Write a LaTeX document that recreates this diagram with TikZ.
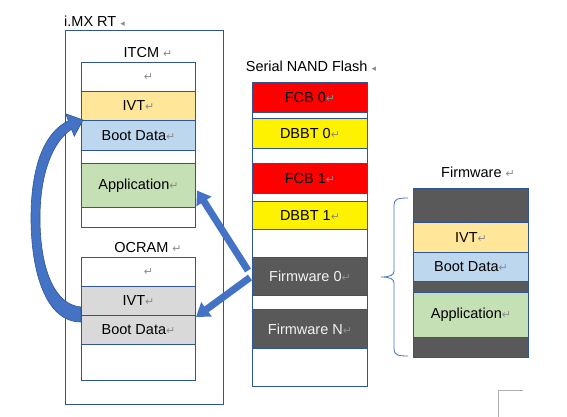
\documentclass[tikz,border=0pt]{standalone}
\usepackage{fontspec}
\setmainfont{Liberation Sans}
\newfontfamily\markfont{DejaVu Sans}
\usepackage{tikz}
\usetikzlibrary{positioning, arrows.meta, calc}
\definecolor{linec}{HTML}{2F5597}
\definecolor{arrowc}{HTML}{4472C4}
\definecolor{ivtc}{HTML}{FFE699}
\definecolor{bdc}{HTML}{BDD7EE}
\definecolor{appc}{HTML}{C5E0B4}
\definecolor{ocrc}{HTML}{D9D9D9}
\definecolor{darkc}{HTML}{595959}
\definecolor{markc}{HTML}{8C8C8C}
\newcommand{\parmark}{{\markfont\color{markc}\fontsize{11}{11}\selectfont ↵}}
\newcommand{\anchmark}{{\markfont\color{markc}\fontsize{9}{9}\selectfont ◂}}

\begin{document}
\begin{tikzpicture}[x=1pt, y=-1pt,
    frame/.style={draw=linec, line width=1pt, anchor=north west, minimum width=114, inner sep=0pt},
    cell/.style={frame, font=\fontsize{14.5}{16}\selectfont},
    title/.style={font=\fontsize{14.5}{16}\selectfont, inner sep=0pt},
    bluearrow/.style={draw=arrowc, line width=7pt, -{Triangle[width=17pt, length=13pt]}}]
  \useasboundingbox (0,0) rectangle (567,417);
  % i.MX RT
  \node[frame, minimum width=158, minimum height=374] (imx) at (65,30) {};
  \node[title, anchor=west] (imxt) at (64,21) {i.MX RT \anchmark};
  \node[title] (itcmt) at (148,53) {ITCM \parmark};
  \node[frame, minimum height=165] (itcm) at (81,62) {};
  \node[cell, draw=none, minimum height=29] (itcm0) at (81,62) {\hspace*{20pt}\parmark};
  \node[cell, fill=ivtc, minimum height=29] (ivt1) at (81,91) {IVT\parmark};
  \node[cell, fill=bdc, minimum height=30] (bd1) at (81,120) {Boot Data\parmark};
  \node[cell, fill=appc, minimum height=44] (app1) at (81,163) {Application\parmark};
  \node[title] (ocrt) at (148,248) {OCRAM \parmark};
  \node[frame, minimum height=123] (ocr) at (81,257) {};
  \node[cell, draw=none, minimum height=29] (ocr0) at (81,257) {\hspace*{20pt}\parmark};
  \node[cell, fill=ocrc, minimum height=29] (ivt2) at (81,286) {IVT\parmark};
  \node[cell, fill=ocrc, minimum height=29] (bd2) at (81,315) {Boot Data\parmark};
  % Serial NAND Flash
  \node[title] (flasht) at (311,66) {Serial NAND Flash \anchmark};
  \node[frame, minimum width=115, minimum height=304] (flash) at (252,82) {};
  \node[cell, minimum width=115, fill=red, minimum height=30] (fcb0) at (252,82) {FCB 0\parmark};
  \node[cell, minimum width=115, fill=yellow, minimum height=30] (dbbt0) at (252,118) {DBBT 0\parmark};
  \node[cell, minimum width=115, fill=red, minimum height=30] (fcb1) at (252,163) {FCB 1\parmark};
  \node[cell, minimum width=115, fill=yellow, minimum height=28] (dbbt1) at (252,201) {DBBT 1\parmark};
  \node[cell, minimum width=115, fill=darkc, text=white!95!black, minimum height=38] (fw0) at (252,257) {Firmware 0\parmark};
  \node[cell, minimum width=115, fill=darkc, text=white!95!black, minimum height=39] (fwN) at (252,309) {Firmware N\parmark};
  % Firmware
  \node[title] (fwt) at (478,172) {Firmware \parmark};
  \node[frame, minimum width=115, minimum height=169, fill=darkc] (fw) at (413,188) {};
  \node[cell, minimum width=115, fill=ivtc, minimum height=30] (ivt3) at (413,222) {IVT\parmark};
  \node[cell, minimum width=115, fill=bdc, minimum height=29] (bd3) at (413,252) {Boot Data\parmark};
  \node[cell, minimum width=115, fill=appc, minimum height=45] (app3) at (413,292) {Application\parmark};
  \draw[arrowc, line width=0.8pt] (408,198) .. controls (398,198) and (394,199) .. (394,205)
    -- (394,271) .. controls (394,275) and (390,277) .. (381,277)
    .. controls (390,277) and (394,279) .. (394,283)
    -- (394,349) .. controls (394,355) and (398,356) .. (408,356);
  \draw[markc!70!white, line width=0.8pt] (498,417) -- (498,390) -- (523,390);
  % arrows
  \draw[bluearrow] ($(fw0.west)+(-4,-6)$) -- ($(app1.east)+(1,5)$);
  \draw[bluearrow] ($(fw0.west)+(-2,1)$) -- ($(bd2.north east)+(0,2)$);
  \coordinate (tailtop) at ($(bd2.north west)+(0,-8)$);
  \coordinate (tailbot) at ($(bd2.north west)+(0,7)$);
  \coordinate (tip) at ($(bd1.north west)+(2,0)$);
  \fill[arrowc, draw=linec, line width=0.6pt] (tailbot)
    .. controls (45,322) and (31,270) .. (31,218)
    .. controls (31,165) and (45,132) .. (68.4,120.8)
    -- (65.7,113.8) -- (tip) -- (74.3,136.2) -- (71.6,129.2)
    .. controls (52,142) and (40,175) .. (40,218)
    .. controls (40,270) and (55,305) .. (tailtop) -- cycle;
\end{tikzpicture}
\end{document}
